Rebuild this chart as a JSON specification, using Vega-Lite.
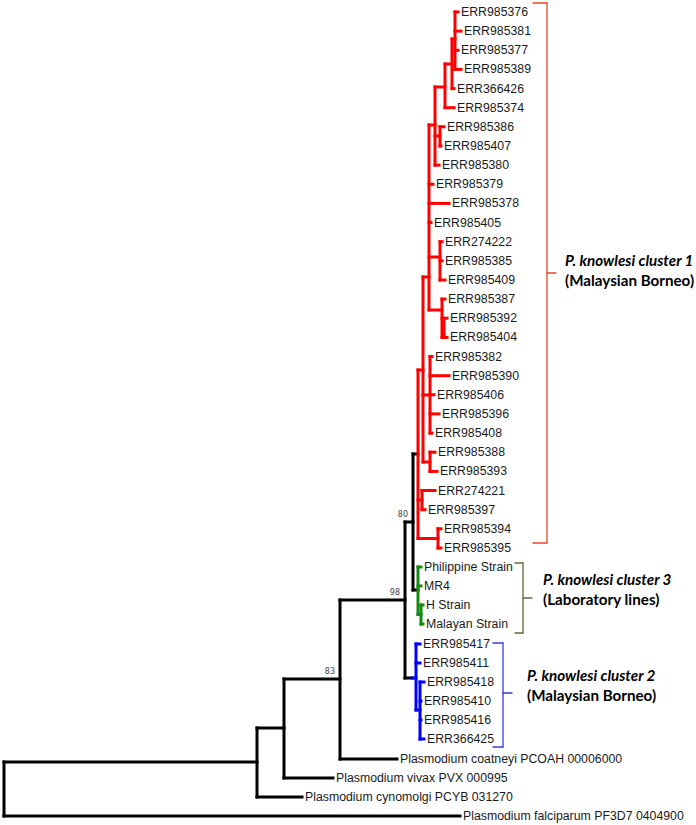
{
  "$schema": "https://vega.github.io/schema/vega-lite/v6.json",
  "width": 696,
  "height": 825,
  "autosize": {"type": "fit", "contains": "padding"},
  "padding": 0,
  "background": "white",
  "config": {"view": {"stroke": null}},
  "datasets": {
    "tree": [
      {"x":4,"x2":4,"y":762,"y2":816,"g":"k"},
      {"x":4,"x2":460,"y":816,"y2":816,"g":"k"},
      {"x":4,"x2":257,"y":762,"y2":762,"g":"k"},
      {"x":257,"x2":257,"y":728,"y2":797,"g":"k"},
      {"x":257,"x2":302,"y":797,"y2":797,"g":"k"},
      {"x":257,"x2":284,"y":728,"y2":728,"g":"k"},
      {"x":284,"x2":284,"y":679,"y2":778,"g":"k"},
      {"x":284,"x2":333,"y":778,"y2":778,"g":"k"},
      {"x":284,"x2":340,"y":679,"y2":679,"g":"k"},
      {"x":340,"x2":340,"y":600,"y2":759,"g":"k"},
      {"x":340,"x2":397,"y":759,"y2":759,"g":"k"},
      {"x":340,"x2":405,"y":600,"y2":600,"g":"k"},
      {"x":405,"x2":405,"y":522,"y2":678,"g":"k"},
      {"x":405,"x2":413,"y":522,"y2":522,"g":"k"},
      {"x":413,"x2":413,"y":454,"y2":590,"g":"k"},
      {"x":413,"x2":418,"y":454,"y2":454,"g":"k"},
      {"x":413,"x2":418,"y":590,"y2":590,"g":"k"},
      {"x":405,"x2":412,"y":678,"y2":678,"g":"k"},

      {"x":418,"x2":418,"y":370,"y2":538.5,"g":"r"},
      {"x":418,"x2":423,"y":370,"y2":370,"g":"r"},
      {"x":423,"x2":423,"y":277,"y2":462,"g":"r"},
      {"x":423,"x2":430,"y":462,"y2":462,"g":"r"},
      {"x":430,"x2":430,"y":452.2,"y2":471.4,"g":"r"},
      {"x":430,"x2":435,"y":452.2,"y2":452.2,"g":"r"},
      {"x":430,"x2":437,"y":471.4,"y2":471.4,"g":"r"},
      {"x":423,"x2":430,"y":395,"y2":395,"g":"r"},
      {"x":430,"x2":430,"y":356.5,"y2":433.1,"g":"r"},
      {"x":430,"x2":432,"y":356.5,"y2":356.5,"g":"r"},
      {"x":430,"x2":449,"y":375.7,"y2":375.7,"g":"r"},
      {"x":430,"x2":434,"y":394.8,"y2":394.8,"g":"r"},
      {"x":430,"x2":439,"y":413.9,"y2":413.9,"g":"r"},
      {"x":430,"x2":432,"y":433.1,"y2":433.1,"g":"r"},
      {"x":423,"x2":429,"y":277,"y2":277,"g":"r"},
      {"x":429,"x2":429,"y":125,"y2":310,"g":"r"},
      {"x":429,"x2":435,"y":125,"y2":125,"g":"r"},
      {"x":435,"x2":435,"y":87,"y2":165.1,"g":"r"},
      {"x":435,"x2":445,"y":87,"y2":87,"g":"r"},
      {"x":445,"x2":445,"y":64,"y2":107.7,"g":"r"},
      {"x":445,"x2":454,"y":107.7,"y2":107.7,"g":"r"},
      {"x":445,"x2":452,"y":64,"y2":64,"g":"r"},
      {"x":452,"x2":452,"y":39,"y2":88.6,"g":"r"},
      {"x":452,"x2":454,"y":88.6,"y2":88.6,"g":"r"},
      {"x":452,"x2":455,"y":39,"y2":39,"g":"r"},
      {"x":455,"x2":455,"y":12,"y2":69.4,"g":"r"},
      {"x":455,"x2":458,"y":12,"y2":12,"g":"r"},
      {"x":455,"x2":461,"y":31.1,"y2":31.1,"g":"r"},
      {"x":455,"x2":458,"y":50.3,"y2":50.3,"g":"r"},
      {"x":455,"x2":461,"y":69.4,"y2":69.4,"g":"r"},
      {"x":435,"x2":440,"y":136,"y2":136,"g":"r"},
      {"x":440,"x2":440,"y":126.8,"y2":146,"g":"r"},
      {"x":440,"x2":444,"y":126.8,"y2":126.8,"g":"r"},
      {"x":440,"x2":441,"y":146,"y2":146,"g":"r"},
      {"x":435,"x2":439,"y":165.1,"y2":165.1,"g":"r"},
      {"x":429,"x2":433,"y":184.3,"y2":184.3,"g":"r"},
      {"x":429,"x2":449,"y":203.4,"y2":203.4,"g":"r"},
      {"x":429,"x2":431,"y":222.5,"y2":222.5,"g":"r"},
      {"x":429,"x2":440,"y":257,"y2":257,"g":"r"},
      {"x":440,"x2":440,"y":241.7,"y2":280,"g":"r"},
      {"x":440,"x2":442,"y":241.7,"y2":241.7,"g":"r"},
      {"x":440,"x2":442,"y":260.8,"y2":260.8,"g":"r"},
      {"x":440,"x2":445,"y":280,"y2":280,"g":"r"},
      {"x":429,"x2":442,"y":310,"y2":310,"g":"r"},
      {"x":442,"x2":442,"y":299.1,"y2":337.4,"g":"r"},
      {"x":442,"x2":445,"y":299.1,"y2":299.1,"g":"r"},
      {"x":444,"x2":444,"y":318.2,"y2":337.4,"g":"r"},
      {"x":442,"x2":447,"y":318.2,"y2":318.2,"g":"r"},
      {"x":442,"x2":447,"y":337.4,"y2":337.4,"g":"r"},
      {"x":418,"x2":422,"y":500,"y2":500,"g":"r"},
      {"x":422,"x2":422,"y":490.5,"y2":509.7,"g":"r"},
      {"x":422,"x2":435,"y":490.5,"y2":490.5,"g":"r"},
      {"x":422,"x2":425,"y":509.7,"y2":509.7,"g":"r"},
      {"x":418,"x2":438,"y":538.5,"y2":538.5,"g":"r"},
      {"x":438,"x2":438,"y":528.8,"y2":548,"g":"r"},
      {"x":438,"x2":441,"y":528.8,"y2":528.8,"g":"r"},
      {"x":438,"x2":441,"y":548,"y2":548,"g":"r"},

      {"x":418,"x2":418,"y":567,"y2":614.5,"g":"g"},
      {"x":418,"x2":421,"y":567,"y2":567,"g":"g"},
      {"x":418,"x2":421,"y":586,"y2":586,"g":"g"},
      {"x":418,"x2":421,"y":614.5,"y2":614.5,"g":"g"},
      {"x":421,"x2":421,"y":605,"y2":624,"g":"g"},
      {"x":421,"x2":423,"y":605,"y2":605,"g":"g"},
      {"x":421,"x2":423,"y":624,"y2":624,"g":"g"},

      {"x":412,"x2":416,"y":678,"y2":678,"g":"b"},
      {"x":416,"x2":416,"y":644,"y2":710,"g":"b"},
      {"x":416,"x2":420,"y":644,"y2":644,"g":"b"},
      {"x":416,"x2":420,"y":663,"y2":663,"g":"b"},
      {"x":416,"x2":420,"y":710,"y2":710,"g":"b"},
      {"x":420,"x2":420,"y":682,"y2":739,"g":"b"},
      {"x":420,"x2":424,"y":682,"y2":682,"g":"b"},
      {"x":420,"x2":421,"y":701,"y2":701,"g":"b"},
      {"x":420,"x2":421,"y":720,"y2":720,"g":"b"},
      {"x":420,"x2":424,"y":739,"y2":739,"g":"b"}
    ],
    "brackets": [
      {"x":533,"x2":547,"y":3,"y2":3,"g":"rb"},
      {"x":547,"x2":547,"y":3,"y2":543,"g":"rb"},
      {"x":547,"x2":556,"y":273,"y2":273,"g":"rb"},
      {"x":533,"x2":547,"y":543,"y2":543,"g":"rb"},
      {"x":515,"x2":523,"y":563,"y2":563,"g":"gb"},
      {"x":523,"x2":523,"y":563,"y2":633,"g":"gb"},
      {"x":523,"x2":532,"y":598,"y2":598,"g":"gb"},
      {"x":515,"x2":523,"y":633,"y2":633,"g":"gb"},
      {"x":493,"x2":503,"y":643,"y2":643,"g":"bb"},
      {"x":503,"x2":503,"y":643,"y2":747,"g":"bb"},
      {"x":503,"x2":512,"y":693,"y2":693,"g":"bb"},
      {"x":493,"x2":503,"y":747,"y2":747,"g":"bb"}
    ],
    "leaves": [
      {"name":"ERR985376","x":461,"y":12},
      {"name":"ERR985381","x":464,"y":31.1},
      {"name":"ERR985377","x":461,"y":50.3},
      {"name":"ERR985389","x":464,"y":69.4},
      {"name":"ERR366426","x":457,"y":88.6},
      {"name":"ERR985374","x":457,"y":107.7},
      {"name":"ERR985386","x":447,"y":126.8},
      {"name":"ERR985407","x":444,"y":146},
      {"name":"ERR985380","x":442,"y":165.1},
      {"name":"ERR985379","x":436,"y":184.3},
      {"name":"ERR985378","x":452,"y":203.4},
      {"name":"ERR985405","x":434,"y":222.5},
      {"name":"ERR274222","x":445,"y":241.7},
      {"name":"ERR985385","x":445,"y":260.8},
      {"name":"ERR985409","x":448,"y":280},
      {"name":"ERR985387","x":448,"y":299.1},
      {"name":"ERR985392","x":450,"y":318.2},
      {"name":"ERR985404","x":450,"y":337.4},
      {"name":"ERR985382","x":435,"y":356.5},
      {"name":"ERR985390","x":452,"y":375.7},
      {"name":"ERR985406","x":437,"y":394.8},
      {"name":"ERR985396","x":442,"y":413.9},
      {"name":"ERR985408","x":435,"y":433.1},
      {"name":"ERR985388","x":438,"y":452.2},
      {"name":"ERR985393","x":440,"y":471.4},
      {"name":"ERR274221","x":438,"y":490.5},
      {"name":"ERR985397","x":428,"y":509.7},
      {"name":"ERR985394","x":444,"y":528.8},
      {"name":"ERR985395","x":444,"y":548},
      {"name":"Philippine Strain","x":424,"y":567},
      {"name":"MR4","x":424,"y":586},
      {"name":"H Strain","x":426,"y":605},
      {"name":"Malayan Strain","x":426,"y":624},
      {"name":"ERR985417","x":423,"y":644},
      {"name":"ERR985411","x":423,"y":663},
      {"name":"ERR985418","x":427,"y":682},
      {"name":"ERR985410","x":424,"y":701},
      {"name":"ERR985416","x":424,"y":720},
      {"name":"ERR366425","x":427,"y":739},
      {"name":"Plasmodium coatneyi PCOAH 00006000","x":400,"y":759},
      {"name":"Plasmodium vivax PVX 000995","x":336,"y":778},
      {"name":"Plasmodium cynomolgi PCYB 031270","x":305,"y":797},
      {"name":"Plasmodium falciparum PF3D7 0404900","x":463,"y":816}
    ],
    "support": [
      {"v":"80","x":408,"y":515},
      {"v":"98","x":400,"y":593},
      {"v":"83","x":335,"y":672}
    ],
    "clusters": [
      {"t1":"P. knowlesi cluster 1","t2":"(Malaysian Borneo)","x":565,"y1":261,"y2":281},
      {"t1":"P. knowlesi cluster 3","t2":"(Laboratory lines)","x":543,"y1":580,"y2":600},
      {"t1":"P. knowlesi cluster 2","t2":"(Malaysian Borneo)","x":527,"y1":676,"y2":696}
    ]
  },
  "layer": [
    {
      "data": {"name": "brackets"},
      "mark": {"type": "rule", "strokeWidth": 1.3, "strokeCap": "round"},
      "encoding": {
        "x": {"field": "x", "type": "quantitative", "scale": {"domain": [0, 696], "nice": false, "zero": false}, "axis": null},
        "x2": {"field": "x2"},
        "y": {"field": "y", "type": "quantitative", "scale": {"domain": [0, 825], "nice": false, "zero": false, "reverse": true}, "axis": null},
        "y2": {"field": "y2"},
        "color": {"field": "g", "type": "nominal", "legend": null,
          "scale": {"domain": ["k","r","g","b","rb","gb","bb"], "range": ["#000000","#ff0000","#138a13","#0000ff","#e8482c","#5b6b3a","#3a3ae0"]}}
      }
    },
    {
      "data": {"name": "tree"},
      "mark": {"type": "rule", "strokeWidth": 3, "strokeCap": "square"},
      "encoding": {
        "x": {"field": "x", "type": "quantitative"},
        "x2": {"field": "x2"},
        "y": {"field": "y", "type": "quantitative"},
        "y2": {"field": "y2"},
        "color": {"field": "g", "type": "nominal", "legend": null}
      }
    },
    {
      "data": {"name": "leaves"},
      "mark": {"type": "text", "align": "left", "baseline": "middle", "font": "Liberation Sans", "fontSize": 12.3, "color": "#1a1a1a"},
      "encoding": {
        "x": {"field": "x", "type": "quantitative"},
        "y": {"field": "y", "type": "quantitative"},
        "text": {"field": "name"}
      }
    },
    {
      "data": {"name": "support"},
      "mark": {"type": "text", "align": "right", "baseline": "middle", "font": "DejaVu Sans", "fontSize": 8, "color": "#444444"},
      "encoding": {
        "x": {"field": "x", "type": "quantitative"},
        "y": {"field": "y", "type": "quantitative"},
        "text": {"field": "v"}
      }
    },
    {
      "data": {"name": "clusters"},
      "mark": {"type": "text", "align": "left", "baseline": "middle", "font": "Lato", "fontSize": 15.2, "fontWeight": "bold", "fontStyle": "italic", "color": "#000000"},
      "encoding": {
        "x": {"field": "x", "type": "quantitative"},
        "y": {"field": "y1", "type": "quantitative"},
        "text": {"field": "t1"}
      }
    },
    {
      "data": {"name": "clusters"},
      "mark": {"type": "text", "align": "left", "baseline": "middle", "font": "Lato", "fontSize": 15.2, "fontWeight": "bold", "color": "#000000"},
      "encoding": {
        "x": {"field": "x", "type": "quantitative"},
        "y": {"field": "y2", "type": "quantitative"},
        "text": {"field": "t2"}
      }
    }
  ]
}
